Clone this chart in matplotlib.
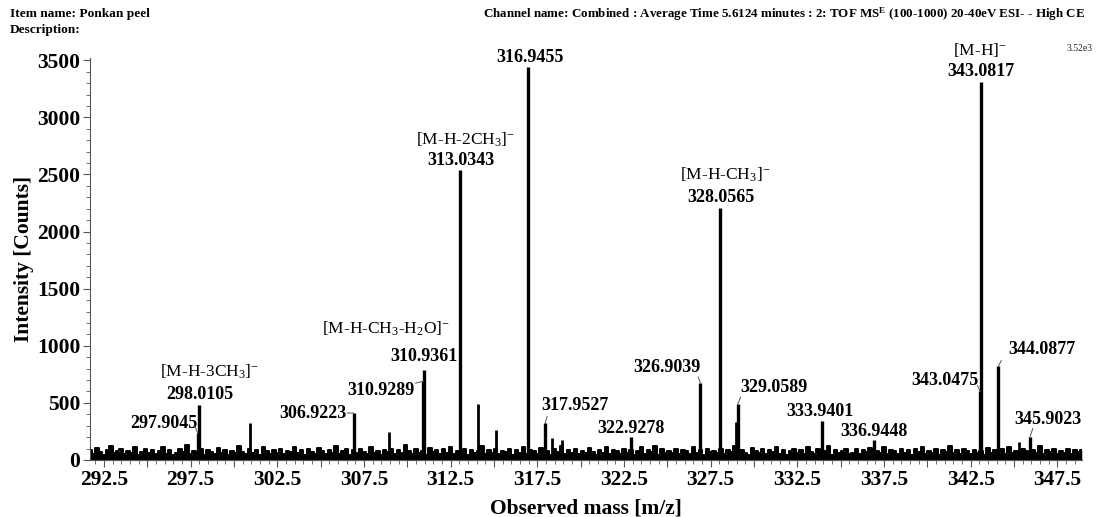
import numpy as np
import matplotlib.pyplot as plt
from matplotlib.ticker import FixedLocator, MultipleLocator

plt.rcParams['font.family'] = ['Liberation Serif', 'DejaVu Serif']
plt.rcParams['mathtext.fontset'] = 'custom'
plt.rcParams['mathtext.rm'] = 'Liberation Serif'
plt.rcParams['mathtext.it'] = 'Liberation Serif:italic'
plt.rcParams['mathtext.bf'] = 'Liberation Serif:bold'

# labelled peaks: m/z, intensity
peak_mz = [297.9045, 298.0105, 306.9223, 310.9289, 310.9361, 313.0343, 316.9455,
           317.9527, 322.9278, 326.9039, 328.0565, 329.0589, 333.9401, 336.9448,
           343.0475, 343.0817, 344.0877, 345.9023]
peak_int = [240, 481, 411, 690, 788, 2539, 3440,
            321, 200, 674, 2206, 490, 341, 175,
            600, 3310, 819, 197]

# unlabelled peaks
other_mz = [300.95, 308.95, 314.1, 315.1, 318.35, 318.95, 328.95, 345.3]
other_int = [324, 245, 490, 263, 190, 175, 333, 160]

# baseline noise, every 0.2 m/z from 291.7 to 348.9 (estimated)
noise = [90, 55, 105, 70, 40, 85, 120, 60, 75, 95, 50, 80, 65, 110, 45, 70, 100, 60, 85, 50,
         75, 115, 55, 90, 40, 65, 95, 70, 130, 50, 80, 60, 100, 45, 85, 70, 55, 105, 65, 90,
         45, 80, 60, 125, 70, 50, 95, 65, 85, 40, 110, 75, 55, 90, 60, 100, 50, 80, 70, 115,
         60, 85, 45, 95, 70, 55, 105, 80, 50, 90, 65, 120, 55, 75, 100, 45, 85, 60, 95, 70,
         50, 110, 65, 80, 45, 90, 70, 100, 55, 85, 60, 130, 75, 50, 95, 65, 80, 45, 105, 70,
         85, 55, 95, 60, 115, 50, 80, 70, 100, 45, 90, 65, 75, 120, 55, 85, 60, 95, 50, 80,
         70, 100, 45, 85, 65, 110, 55, 90, 75, 50, 105, 60, 80, 45, 95, 70, 125, 55, 85, 65,
         95, 50, 80, 60, 105, 70, 45, 90, 65, 115, 55, 85, 75, 50, 100, 60, 90, 45, 80, 110,
         55, 85, 70, 120, 45, 95, 60, 80, 65, 100, 50, 90, 75, 55, 110, 65, 85, 45, 95, 70,
         80, 60, 100, 50, 85, 70, 125, 55, 90, 65, 45, 105, 75, 60, 95, 50, 85, 70, 115, 55,
         90, 45, 75, 100, 60, 85, 55, 110, 70, 50, 95, 65, 80, 120, 45, 90, 60, 75, 100, 55,
         65, 95, 50, 85, 70, 105, 45, 80, 60, 115, 55, 90, 75, 50, 100, 65, 85, 45, 95, 70,
         110, 55, 80, 65, 95, 45, 90, 70, 125, 60, 85, 50, 100, 75, 55, 90, 65, 80, 45, 105,
         60, 85, 70, 95, 50, 115, 65, 80, 45, 100, 75, 55, 90, 60, 120, 50, 85, 70, 95, 55,
         80, 65, 100, 50, 90, 70, 85]
noise_x = np.linspace(291.7, 348.9, len(noise))

# label offsets in pixels from peak top: (dx, dy), leader start or None
label_off = [(-34, 9), (0, 11), (-41, 0), (-42, -9), (0, 13), (1, 10), (2, 10),
             (30, 18), (0, 9), (-33, 16), (1, 11), (36, 17), (-2, 10), (0, 8),
             (-35, 11), (0, 10), (44, 17), (18, 18)]
leaders = [(-3, 7), None, (-7, 0), (-8, -2), None, None, None,
           (2, 7), None, (-2, 6), None, (3, 7), None, None,
           (-3, 6), None, (3, 6), (3, 9)]

# ion annotations: peak index, text, offset
ions = [(1, '[M-H-3CH$_3$]$^{-}$', (10, 33)),
        (4, '[M-H-CH$_3$-H$_2$O]$^{-}$', (-38, 41)),
        (5, '[M-H-2CH$_3$]$^{-}$', (6, 30)),
        (10, '[M-H-CH$_3$]$^{-}$', (5, 33)),
        (15, '[M-H]$^{-}$', (-1, 32))]

fig = plt.figure(figsize=(10.96, 5.17), dpi=100)
ax = fig.add_axes([0.0821, 0.1103, 0.9049, 0.7775])

# noisy baseline: blocky filled band
ax.fill_between(noise_x, noise, step='mid', color='black', lw=0)
ax.plot(noise_x, noise, drawstyle='steps-mid', color='black', lw=1.4)
ax.vlines(other_mz, 0, other_int, color='black', lw=2.0)
ax.vlines(peak_mz, 0, peak_int, color='black', lw=2.4)

for i, (mz, h) in enumerate(zip(peak_mz, peak_int)):
    dx, dy = label_off[i]
    ax.annotate('%.4f' % mz, xy=(mz, h), xytext=(dx, dy), textcoords='offset pixels',
                ha='center', va='center', fontsize=13, fontweight='bold')
    if leaders[i] is not None:
        ax.annotate('', xy=(mz, h), xytext=leaders[i], textcoords='offset pixels',
                    arrowprops=dict(arrowstyle='-', color='#555555', lw=0.7,
                                    shrinkA=0, shrinkB=0))

for i, txt, (dx, dy) in ions:
    ax.annotate(txt, xy=(peak_mz[i], peak_int[i]), xytext=(dx, dy),
                textcoords='offset pixels', ha='center', va='center', fontsize=12.5)

ax.set_xlim(291.7, 348.9)
ax.set_ylim(0, 3520)
major = np.arange(292.5, 348.0, 2.5)
ax.xaxis.set_major_locator(FixedLocator(major))
ax.set_xticklabels(['%.1f' % v if (v - 292.5) % 5 == 0 else '' for v in major])
ax.xaxis.set_minor_locator(MultipleLocator(0.5))
ax.set_yticks(np.arange(0, 3501, 500))
ax.yaxis.set_minor_locator(MultipleLocator(100))
ax.tick_params(which='major', length=5, width=0.8, color='#555555', labelsize=15.5, pad=2)
ax.tick_params(which='minor', length=3, width=0.6, color='#555555')
for lab in ax.get_xticklabels() + ax.get_yticklabels():
    lab.set_fontweight('bold')

for s in ['top', 'right']:
    ax.spines[s].set_visible(False)
for s in ['left', 'bottom']:
    ax.spines[s].set_color('#555555')
    ax.spines[s].set_linewidth(0.8)

ax.set_xlabel('Observed mass [m/z]', fontsize=15.5, fontweight='bold', labelpad=6)
ax.set_ylabel('Intensity [Counts]', fontsize=15.5, fontweight='bold', labelpad=2)

fig.text(0.009, 0.973, 'Item name: Ponkan peel', fontsize=9.6, fontweight='bold', va='center')
fig.text(0.009, 0.942, 'Description:', fontsize=9.6, fontweight='bold', va='center')
fig.text(0.990, 0.973,
         'Channel name: Combined : Average Time 5.6124 minutes : 2: TOF MS$^{\\mathbf{E}}$ '
         '(100-1000) 20-40eV ESI- - High CE',
         fontsize=9.4, fontweight='bold', va='center', ha='right')
fig.text(0.997, 0.907, '3.52e3', fontsize=7, va='center', ha='right', color='#222222')

fig.savefig('out.png', dpi=100)
